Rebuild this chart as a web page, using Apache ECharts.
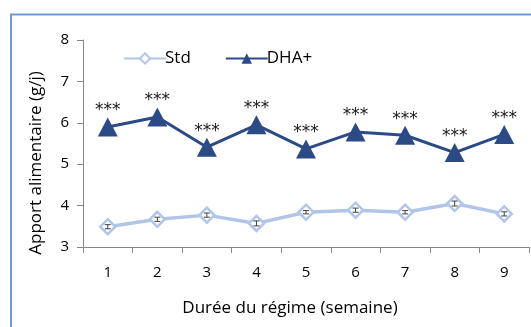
<!DOCTYPE html>
<html>
<head>
<meta charset="utf-8">
<script src="https://cdn.jsdelivr.net/npm/echarts@6/dist/echarts.min.js"></script>
<style>
  html, body { margin: 0; padding: 0; background: #fff; }
  #chart { width: 531px; height: 327px; }
</style>
</head>
<body>
<div id="chart"></div>
<script>
// Weekly food intake (g/day) for the two diets
const weeks = ['1', '2', '3', '4', '5', '6', '7', '8', '9'];
const stdValues = [3.49, 3.67, 3.77, 3.57, 3.84, 3.89, 3.84, 4.05, 3.80];
const stdErrors = [0.05, 0.05, 0.05, 0.06, 0.04, 0.05, 0.04, 0.06, 0.05];
const dhaValues = [5.90, 6.14, 5.41, 5.95, 5.37, 5.78, 5.70, 5.28, 5.72];
const signif = ['***', '***', '***', '***', '***', '***', '***', '***', '***'];
const yTicks = [3, 4, 5, 6, 7, 8];

const FONT = 'Open Sans';
const STD_COLOR = '#b1c5e8';
const DHA_COLOR = '#2b4a86';

const chart = echarts.init(document.getElementById('chart'), null, { renderer: 'canvas' });

// error bar whiskers for the standard diet
function renderErr(params, api) {
  const x = api.value(0);
  const v = api.value(1);
  const e = api.value(2);
  const top = api.coord([x, v + e]);
  const bot = api.coord([x, v - e]);
  const w = 3;
  const style = { stroke: '#404040', lineWidth: 1 };
  return {
    type: 'group',
    children: [
      { type: 'line', shape: { x1: top[0], y1: top[1], x2: bot[0], y2: bot[1] }, style },
      { type: 'line', shape: { x1: top[0] - w, y1: top[1], x2: top[0] + w, y2: top[1] }, style },
      { type: 'line', shape: { x1: bot[0] - w, y1: bot[1], x2: bot[0] + w, y2: bot[1] }, style }
    ]
  };
}

chart.setOption({
  animation: false,
  backgroundColor: '#ffffff',
  textStyle: { fontFamily: FONT },
  graphic: [
    {
      type: 'rect',
      shape: { x: 11, y: 14.5, width: 600, height: 400 },
      style: { fill: 'none', stroke: '#6d9bd6', lineWidth: 2 },
      silent: true
    },
    {
      type: 'text',
      x: 36, y: 163,
      rotation: Math.PI / 2,
      style: {
        text: 'Apport alimentaire (g/j)',
        font: '17px "' + FONT + '"',
        fill: '#000',
        align: 'center',
        verticalAlign: 'middle'
      }
    }
  ],
  grid: { left: 83, right: 2, top: 40, bottom: 80, containLabel: false },
  legend: {
    left: 118, top: 45,
    itemWidth: 42, itemHeight: 13, itemGap: 34,
    textStyle: { fontFamily: FONT, fontSize: 17, color: '#000', padding: [0, 0, 0, -6] },
    data: ['Std', 'DHA+']
  },
  xAxis: {
    type: 'category',
    data: weeks,
    boundaryGap: true,
    name: 'Durée du régime (semaine)',
    nameLocation: 'middle',
    nameGap: 53,
    nameTextStyle: { fontFamily: FONT, fontSize: 17, color: '#000', padding: [0, 32, 0, 0] },
    axisLine: { lineStyle: { color: '#868686', width: 1 } },
    axisTick: { show: true, alignWithLabel: false, length: 6, lineStyle: { color: '#868686' } },
    axisLabel: { fontFamily: FONT, fontSize: 15, color: '#000', margin: 18 },
    splitLine: { show: false }
  },
  yAxis: {
    type: 'value',
    min: yTicks[0],
    max: yTicks[yTicks.length - 1],
    interval: 1,
    axisLine: { show: true, lineStyle: { color: '#868686', width: 1 } },
    axisTick: { show: true, length: 6, lineStyle: { color: '#868686' } },
    axisLabel: { fontFamily: FONT, fontSize: 15, color: '#000', margin: 14 },
    splitLine: { show: false }
  },
  series: [
    {
      name: 'Std',
      type: 'line',
      data: stdValues,
      symbol: 'diamond',
      symbolSize: 15,
      showAllSymbol: true,
      lineStyle: { color: STD_COLOR, width: 3.5 },
      itemStyle: { color: '#ffffff', borderColor: STD_COLOR, borderWidth: 2.5 },
      z: 2
    },
    {
      name: 'Std-err',
      type: 'custom',
      data: weeks.map((w, i) => [i, stdValues[i], stdErrors[i]]),
      renderItem: renderErr,
      silent: true,
      z: 5
    },
    {
      name: 'DHA+',
      type: 'line',
      data: dhaValues,
      symbol: 'triangle',
      symbolSize: [20, 19],
      showAllSymbol: true,
      lineStyle: { color: DHA_COLOR, width: 3 },
      itemStyle: { color: DHA_COLOR, borderColor: DHA_COLOR, borderWidth: 0 },
      label: {
        show: true,
        position: 'top',
        distance: -2,
        formatter: (p) => signif[p.dataIndex],
        fontFamily: 'DejaVu Sans',
        fontSize: 17,
        color: '#1a1a1a'
      },
      z: 3
    }
  ]
});
</script>
</body>
</html>
